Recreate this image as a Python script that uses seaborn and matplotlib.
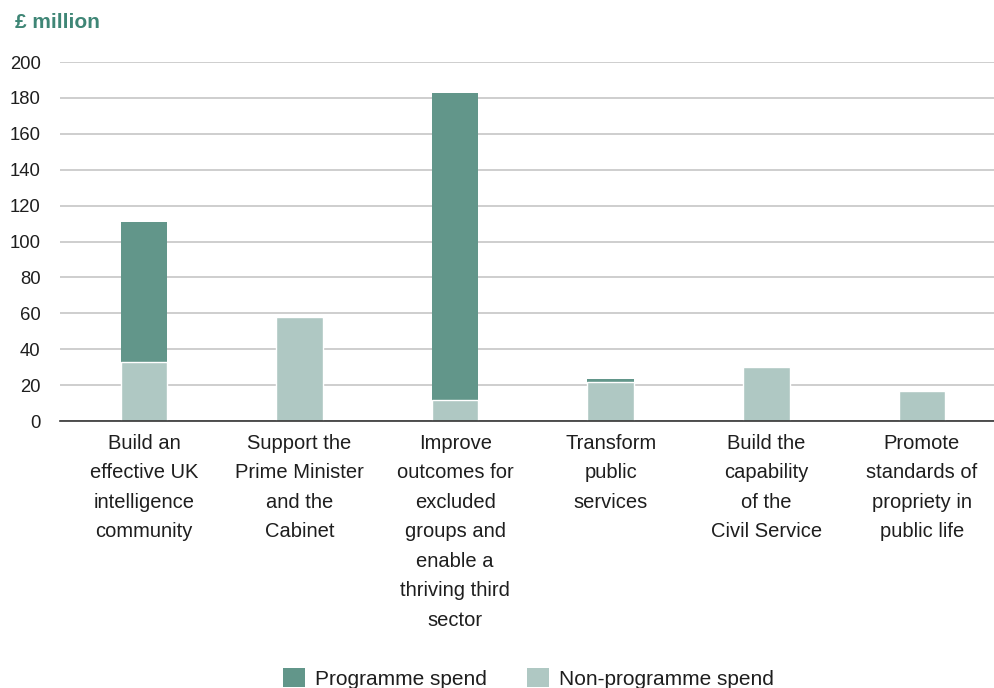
import numpy as np
import pandas as pd
import matplotlib
matplotlib.use("Agg")
import matplotlib.pyplot as plt
import matplotlib.transforms as mtransforms
from matplotlib.patches import Patch
import seaborn as sns

# Spend by departmental objective (£ million)
categories = [
    "Build an\neffective UK\nintelligence\ncommunity",
    "Support the\nPrime Minister\nand the\nCabinet",
    "Improve\noutcomes for\nexcluded\ngroups and\nenable a\nthriving third\nsector",
    "Transform\npublic\nservices",
    "Build the\ncapability\nof the\nCivil Service",
    "Promote\nstandards of\npropriety in\npublic life",
]
programme_spend = [78, 0, 171, 1.5, 0, 0]
non_programme_spend = [33, 58, 12, 22, 30, 17]
y_ticks = [0, 20, 40, 60, 80, 100, 120, 140, 160, 180, 200]
series_names = ["Programme spend", "Non-programme spend"]

PROG_COLOR = "#62968a"
NONPROG_COLOR = "#afc8c3"
TEXT_COLOR = "#1e1e1e"
TITLE_COLOR = "#3f8676"

sns.set_theme(style="white")
plt.rcParams["font.family"] = ["Liberation Sans", "DejaVu Sans"]

df = pd.DataFrame({
    "category": categories,
    "programme": programme_spend,
    "non_programme": non_programme_spend,
})
df["total"] = df["programme"] + df["non_programme"]

fig = plt.figure(figsize=(9.95, 6.88), dpi=100)
ax = fig.add_axes([0.0603, 0.388, 0.9397, 0.5218])

# Stacked bars: full height in the programme colour, non-programme portion on top of it
with_prog = df[df["programme"] > 0]
sns.barplot(data=with_prog, x="category", y="total", order=categories,
            color=PROG_COLOR, saturation=1, width=0.3, linewidth=0, ax=ax)
sns.barplot(data=df, x="category", y="non_programme", order=categories,
            color=NONPROG_COLOR, saturation=1, width=0.3,
            edgecolor="white", linewidth=1.0, ax=ax)

left_lim = -0.54
ax.set_xlim(left_lim, 5.47)
ax.set_ylim(0, 200)
ax.set_yticks(y_ticks)
ax.set_yticklabels([str(v) for v in y_ticks])
ax.set_xlabel("")
ax.set_ylabel("")

# Horizontal gridlines
ax.yaxis.grid(True, color="#c6c6c6", linewidth=1.2)
ax.xaxis.grid(False)
ax.set_axisbelow(True)

for side in ["top", "right", "left"]:
    ax.spines[side].set_visible(False)
ax.spines["bottom"].set_color("#333333")
ax.spines["bottom"].set_linewidth(1.2)

# Separator ticks between categories
ax.set_xticks([left_lim + 0.003, 0.5, 1.5, 2.5, 3.5, 4.5], minor=True)
ax.tick_params(axis="x", which="minor", length=5, width=1.2, color="#333333",
               direction="out")
ax.tick_params(axis="y", length=0, pad=14, labelsize=13.3, labelcolor=TEXT_COLOR)

# Category labels centred under bars (drawn as text for wider line spacing)
ax.set_xticks(range(len(categories)))
ax.tick_params(axis="x", which="major", length=0, labelbottom=False)
label_tf = ax.get_xaxis_transform() + mtransforms.ScaledTranslation(
    0, -9 / 72, fig.dpi_scale_trans)
for i, name in enumerate(categories):
    ax.text(i, 0, name, transform=label_tf, ha="center", va="top",
            fontsize=14.5, color=TEXT_COLOR, linespacing=1.7)

fig.text(0.015, 0.968, "£ million", fontsize=15, fontweight="bold",
         color=TITLE_COLOR, ha="left", va="center")

handles = [Patch(facecolor=PROG_COLOR, edgecolor="none"),
           Patch(facecolor=NONPROG_COLOR, edgecolor="none")]
fig.legend(handles, series_names, loc="center", bbox_to_anchor=(0.531, 0.014),
           ncol=2, frameon=False, fontsize=15, handlelength=1.05,
           handleheight=1.05, handletextpad=0.5, columnspacing=1.9,
           labelcolor=TEXT_COLOR)

fig.savefig("out.png", dpi=100)
